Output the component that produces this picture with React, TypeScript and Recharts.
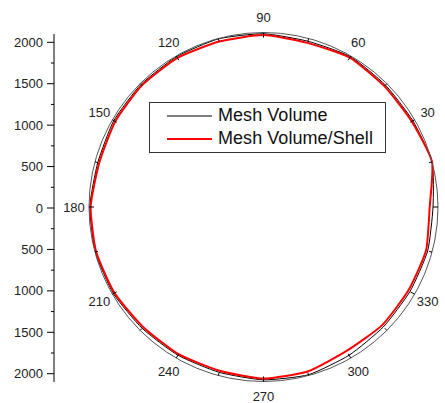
import {
  Legend,
  LineChart,
  PolarAngleAxis,
  PolarRadiusAxis,
  Radar,
  RadarChart,
  XAxis,
  YAxis,
} from "recharts";

// polar angles (degrees), one sample every 15°
const angles = [0, 15, 30, 45, 60, 75, 90, 105, 120, 135, 150, 165, 180, 195, 210, 225, 240, 255, 270, 285, 300, 315, 330, 345];
const meshVolume = [2100, 2075, 2075, 2090, 2065, 2085, 2095, 2090, 2085, 2080, 2065, 2090, 2095, 2085, 2065, 2060, 2060, 2080, 2090, 2060, 2040, 2035, 2045, 2040];
const meshVolumeShell = [2100, 2060, 2057, 2076, 2045, 2070, 2062, 2072, 2070, 2060, 2047, 2080, 2085, 2070, 2045, 2045, 2040, 2065, 2050, 2000, 2015, 2012, 2025, 2000];
const radialTicks = [-2000, -1750, -1500, -1250, -1000, -750, -500, -250, 0, 250, 500, 750, 1000, 1250, 1500, 1750, 2000];
const radialMax = 2100;

const series = [
  { key: "mv", name: "Mesh Volume", color: "#000000", width: 1 },
  { key: "mvs", name: "Mesh Volume/Shell", color: "#ff0000", width: 2 },
];

const data = angles.map((a, i) => ({ angle: a, mv: meshVolume[i], mvs: meshVolumeShell[i] }));

const FONT = "'Liberation Sans', Arial, sans-serif";
const W = 445;
const H = 403;
const CX = 263.5;
const CY = 207;
const R = 174.5;
const TENSION = 1 / 11;

// gently rounded closed curve through the points recharts computed for the radar
function SmoothRadarShape(props: any) {
  const pts = props.points || [];
  const n = pts.length;
  if (!n) return null;
  let d = `M${pts[0].x},${pts[0].y}`;
  for (let i = 0; i < n; i++) {
    const p0 = pts[(i - 1 + n) % n];
    const p1 = pts[i];
    const p2 = pts[(i + 1) % n];
    const p3 = pts[(i + 2) % n];
    const c1x = p1.x + (p2.x - p0.x) * TENSION;
    const c1y = p1.y + (p2.y - p0.y) * TENSION;
    const c2x = p2.x - (p3.x - p1.x) * TENSION;
    const c2y = p2.y - (p3.y - p1.y) * TENSION;
    d += ` C${c1x},${c1y} ${c2x},${c2y} ${p2.x},${p2.y}`;
  }
  d += " Z";
  return <path d={d} fill="none" stroke={props.stroke} strokeWidth={props.strokeWidth} strokeLinejoin="round" />;
}

function AngleTick(props: any) {
  const { cx, cy, radius, payload } = props;
  const deg = Number(payload.value);
  const rad = (deg * Math.PI) / 180;
  const major = deg % 30 === 0;
  const len = major ? 5 : 3;
  const px = (r: number) => cx + r * Math.cos(rad);
  const py = (r: number) => cy - r * Math.sin(rad);
  return (
    <g>
      <line x1={px(radius)} y1={py(radius)} x2={px(radius - len)} y2={py(radius - len)} stroke="#000" strokeWidth={1} />
      {major && deg !== 0 && (
        <text
          x={px(radius + 15)}
          y={py(radius + 15)}
          textAnchor="middle"
          dominantBaseline="central"
          fontSize={13}
          fontFamily={FONT}
          fill="#222"
        >
          {deg}
        </text>
      )}
    </g>
  );
}

function RadialTick(props: any) {
  const { x, y, payload } = props;
  const v = Number(payload.value);
  const major = v % 500 === 0;
  return (
    <g>
      <line x1={x + 4 + (major ? 0 : 4)} y1={y} x2={x + 11} y2={y} stroke="#000" strokeWidth={1} />
      {major && (
        <text x={x} y={y} textAnchor="end" dominantBaseline="central" fontSize={13} fontFamily={FONT} fill="#222">
          {Math.abs(v)}
        </text>
      )}
    </g>
  );
}

function LegendBox() {
  return (
    <div
      style={{
        width: 235,
        height: 49,
        border: "1px solid #333",
        background: "#fff",
        fontFamily: FONT,
        fontSize: 18,
        letterSpacing: 0.05,
        color: "#111",
        boxSizing: "content-box",
      }}
    >
      {series.map((s, i) => (
        <div key={s.key} style={{ display: "flex", alignItems: "center", height: 23, marginTop: i === 0 ? 1 : 0 }}>
          <svg width={63} height={10} style={{ flex: "none" }}>
            <line x1={17} y1={5} x2={62} y2={5} stroke={s.color} strokeWidth={s.width} />
          </svg>
          <span style={{ marginLeft: 5, whiteSpace: "nowrap" }}>{s.name}</span>
        </div>
      ))}
    </div>
  );
}

export default function App() {
  return (
    <div style={{ position: "absolute", left: 0, top: 0, width: W, height: H, background: "#fff" }}>
      <div style={{ position: "absolute", left: 0, top: 0 }}>
        <LineChart width={W} height={H} data={[]} margin={{ top: 34, right: 0, bottom: 21, left: 0 }}>
          <XAxis hide type="number" domain={[0, 1]} />
          <YAxis
            type="number"
            domain={[-radialMax, radialMax]}
            ticks={radialTicks}
            interval={0}
            width={54}
            tickSize={7}
            tickMargin={4}
            tickLine={false}
            stroke="#000"
            tick={<RadialTick />}
            allowDataOverflow
          />
        </LineChart>
      </div>
      <div style={{ position: "absolute", left: 0, top: 0 }}>
        <RadarChart
          width={W}
          height={H}
          data={data}
          cx={CX}
          cy={CY}
          outerRadius={R}
          startAngle={0}
          endAngle={360}
          margin={{ top: 0, right: 0, bottom: 0, left: 0 }}
        >
          <PolarRadiusAxis type="number" domain={[0, radialMax]} axisLine={false} tick={false} />
          <PolarAngleAxis
            dataKey="angle"
            axisLineType="circle"
            stroke="#555"
            tickLine={false}
            tick={<AngleTick />}
          />
          {series.map((s) => (
            <Radar
              key={s.key}
              dataKey={s.key}
              name={s.name}
              stroke={s.color}
              strokeWidth={s.width}
              fill="none"
              fillOpacity={0}
              dot={false}
              shape={<SmoothRadarShape />}
              isAnimationActive={false}
            />
          ))}
          <Legend content={<LegendBox />} wrapperStyle={{ left: 149, top: 102, width: 237, bottom: "auto" }} />
        </RadarChart>
      </div>
    </div>
  );
}
